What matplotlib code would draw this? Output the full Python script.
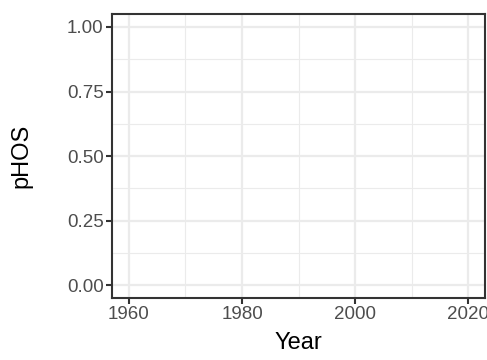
import numpy as np
import matplotlib
matplotlib.use("Agg")
import matplotlib.pyplot as plt
from matplotlib.ticker import MultipleLocator

# the reference panel is empty: no observations were drawn
year = []
phos = []

x_ticks = [1960, 1980, 2000, 2020]
y_ticks = [0.00, 0.25, 0.50, 0.75, 1.00]
y_labels = ["0.00", "0.25", "0.50", "0.75", "1.00"]

plt.rcParams['font.family'] = ['Liberation Sans', 'DejaVu Sans']

fig = plt.figure(figsize=(4.87, 3.6), dpi=100)
ax = fig.add_axes([0.230, 0.172, 0.766, 0.789])

ax.plot(year, phos, color="black")

ax.set_xlim(1957, 2023)
ax.set_ylim(-0.05, 1.05)
ax.set_xticks(x_ticks)
ax.set_yticks(y_ticks)
ax.set_yticklabels(y_labels)
ax.xaxis.set_minor_locator(MultipleLocator(10))
ax.yaxis.set_minor_locator(MultipleLocator(0.125))

ax.grid(which="major", color="#EBEBEB", linewidth=1.6)
ax.grid(which="minor", color="#EBEBEB", linewidth=0.8)
ax.set_axisbelow(True)

for s in ax.spines.values():
    s.set_color("#333333")
    s.set_linewidth(1.5)

ax.tick_params(which="major", length=4, width=1.5, color="#333333",
               labelsize=13.5, labelcolor="#4D4D4D", pad=2)
ax.tick_params(which="minor", length=0)

ax.set_xlabel("Year", fontsize=17, labelpad=6)
ax.set_ylabel("pHOS", fontsize=17, labelpad=25)

fig.savefig("out.png", dpi=100)
